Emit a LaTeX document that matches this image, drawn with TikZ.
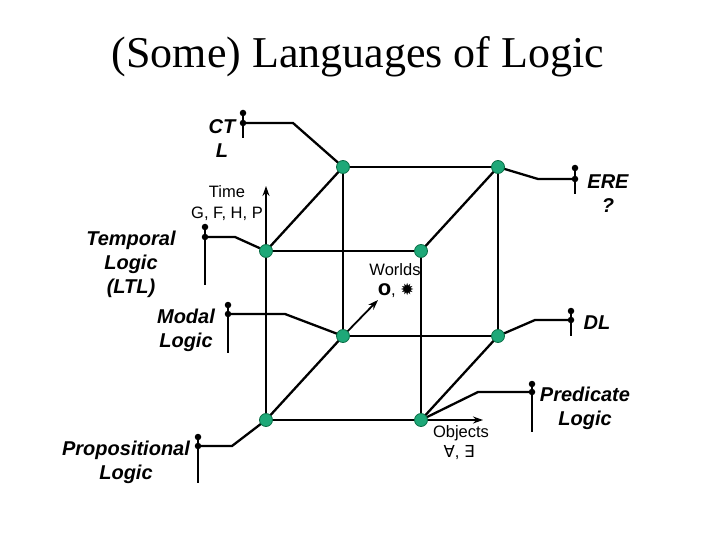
\documentclass[tikz,border=0pt]{standalone}
\usepackage{fontspec}
\setmainfont{Liberation Serif}
\newfontfamily\arialfont{Liberation Sans}
\newfontfamily\symbfont{DejaVu Sans}
\usepackage{tikz}
\usetikzlibrary{arrows.meta,backgrounds}

\definecolor{dotgreen}{RGB}{30,168,120}
\definecolor{dotrim}{RGB}{10,110,70}

\tikzset{
    edge/.style={line width=2.3pt, black},
    vertex/.style={circle, fill=dotgreen, draw=dotrim, line width=0.8pt, minimum size=13pt, inner sep=0pt},
    pindot/.style={circle, fill=black, inner sep=0pt, minimum size=6.5pt},
    logiclabel/.style={font=\arialfont\bfseries\itshape\fontsize{20}{24}\selectfont, align=center, inner sep=0pt},
    axislabel/.style={font=\arialfont\fontsize{16.5}{21}\selectfont, align=center, inner sep=0pt},
    axisarrow/.style={line width=1.8pt, -{Stealth[length=10pt,width=7pt]}}
}

\begin{document}
\begin{tikzpicture}[x=1pt, y=-1pt]
    \useasboundingbox (0,0) rectangle (720,540);

    % Title
    \node (title) at (358,57) {\fontsize{44}{50}\selectfont (Some) Languages of Logic};

    % Cube vertices
    \foreach \v/\x/\y in {fbl/266/420, fbr/421/420, ftl/266/251, ftr/421/251,
                          bbl/343/336, bbr/498/336, btl/343/167, btr/498/167} {
        \node[vertex] (\v) at (\x,\y) {};
    }

    % Pins next to the labels
    \foreach \name/\x/\ya/\yb/\yc in {ctl/243/113/123/138, ere/575/168/179/194,
                                      tmp/205/227/237/285, mod/228/305/314/353,
                                      dl/571/311/320/336, pred/532/384/392/432,
                                      prop/198/437/446/483} {
        \node[pindot] (\name-a) at (\x,\ya) {};
        \node[pindot] (\name-b) at (\x,\yb) {};
        \coordinate (\name-c) at (\x,\yc);
        \draw[line width=1.8pt] (\name-a.center) -- (\name-c);
    }

    \begin{scope}[on background layer]
        % Cube edges
        \draw[edge] (ftl.center) -- (ftr.center) -- (fbr.center) -- (fbl.center) -- cycle;
        \draw[edge] (btl.center) -- (btr.center) -- (bbr.center) -- (bbl.center) -- cycle;
        \foreach \f/\b in {ftl/btl, ftr/btr, fbl/bbl, fbr/bbr} {
            \draw[edge] (\f.center) -- (\b.center);
        }

        % Connectors to the pins
        \draw[edge] (ctl-b.center) -- ++(50,0) -- (btl.center);
        \draw[edge] (ere-b.center) -- ++(-37,0) -- (btr.center);
        \draw[edge] (tmp-b.center) -- ++(30,0) -- (ftl.center);
        \draw[edge] (mod-b.center) -- ++(57,0) -- (bbl.center);
        \draw[edge] (dl-b.center) -- ++(-36,0) -- (bbr.center);
        \draw[edge] (pred-b.center) -- ++(-54,0) -- (fbr.center);
        \draw[edge] (prop-b.center) -- ++(34,0) -- (fbl.center);

        % Axis arrows
        \coordinate (timetip) at (266,186);
        \coordinate (worldtip) at (378,300);
        \coordinate (objtip) at (483,420);
        \draw[axisarrow] (ftl.center) -- (timetip);
        \draw[axisarrow] (bbl.center) -- (worldtip);
        \draw[axisarrow] (fbr.center) -- (objtip);
    \end{scope}

    % Logic labels
    \node[logiclabel] (ctl) at (222,139) {CT\\L};
    \node[logiclabel] (ere) at (608,194) {ERE\\?};
    \node[logiclabel] (temporal) at (131,264) {Temporal\\Logic\\(LTL)};
    \node[logiclabel] (modal) at (186,330) {Modal\\Logic};
    \node[logiclabel] (dl) at (597,323) {DL};
    \node[logiclabel] (predicate) at (585,408) {Predicate\\Logic};
    \node[logiclabel] (propositional) at (126,462) {Propositional\\Logic};

    % Axis labels
    \node[axislabel] (time) at (227,203) {Time\\G, F, H, P};
    \node[axislabel] (worlds) at (395,270) {Worlds};
    \node[axislabel] (modal-ops) at (396,290) {{\bfseries\fontsize{22}{21}\selectfont o}, {\symbfont ✹}};
    \node[axislabel] (objects) at (461,433) {Objects};
    \node[axislabel] (quant) at (459,453) {{\symbfont ∀}, {\symbfont ∃}};
\end{tikzpicture}
\end{document}
